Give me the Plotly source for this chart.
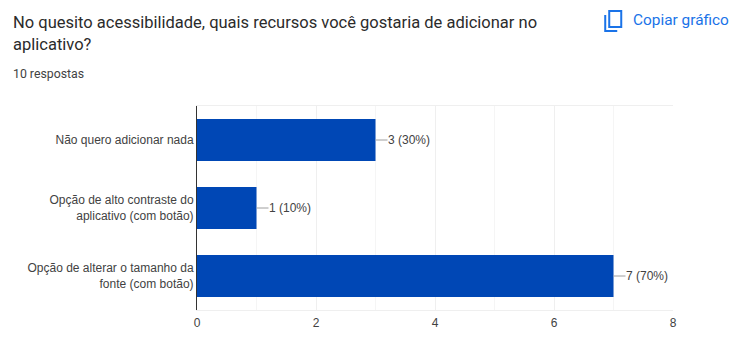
import plotly.graph_objects as go

categories = ["Não quero adicionar nada",
              "Opção de alto contraste do<br>aplicativo (com botão)",
              "Opção de alterar o tamanho da<br>fonte (com botão)"]
values = [3, 1, 7]
percents = ["30%", "10%", "70%"]
xticks = [0, 2, 4, 6, 8]
title_lines = ["No quesito acessibilidade, quais recursos você gostaria de adicionar no", "aplicativo?"]
subtitle = "10 respostas"
copy_label = "Copiar gráfico"

W, H = 748, 358
L, R, T, B = 197.2, 75.3, 106, 48
TXT = "#424242"
ARIAL = "Liberation Sans, Arial, sans-serif"

def px(x):
    return (x - L) / (W - L - R)

def py(y):
    return 1 - (y - T) / (H - T - B)

fig = go.Figure(go.Bar(y=categories, x=values, orientation="h", width=0.62,
                       marker=dict(color="#0047B5", line_width=0),
                       hoverinfo="skip"))

annotations = []
for c, v, p in zip(categories, values, percents):
    annotations.append(dict(x=v, y=c, xref="x", yref="y", text=f"{v} ({p})",
                            showarrow=True, arrowhead=0, arrowwidth=1, arrowcolor="#9e9e9e",
                            ax=12, ay=0, axref="pixel", ayref="pixel", standoff=0,
                            xanchor="left", yanchor="middle", borderpad=0, borderwidth=0,
                            font=dict(family=ARIAL, size=12, color=TXT)))
for i, line in enumerate(title_lines):
    annotations.append(dict(x=px(12), y=py(22 + 23 * i), xref="paper", yref="paper", text=line,
                            showarrow=False, xanchor="left", yanchor="middle", borderpad=0,
                            font=dict(family="Roboto", size=16.5, color="#2b2b2b")))
annotations.append(dict(x=px(12), y=py(74), xref="paper", yref="paper", text=subtitle,
                        showarrow=False, xanchor="left", yanchor="middle", borderpad=0,
                        font=dict(family="Roboto", size=12.3, color="#424242")))
annotations.append(dict(x=px(632), y=py(20), xref="paper", yref="paper", text=copy_label,
                        showarrow=False, xanchor="left", yanchor="middle", borderpad=0,
                        font=dict(family="Roboto", size=15.4, color="#1A73E8")))

shapes = [
    dict(type="rect", xref="paper", yref="paper", x0=px(609), x1=px(621), y0=py(11), y1=py(27),
         line=dict(color="#1A73E8", width=2), fillcolor="rgba(0,0,0,0)"),
    dict(type="path", xref="paper", yref="paper",
         path=f"M{px(605)},{py(15)} L{px(605)},{py(31)} L{px(617)},{py(31)}",
         line=dict(color="#1A73E8", width=2)),
]

fig.update_layout(
    width=W, height=H, paper_bgcolor="white", plot_bgcolor="white", showlegend=False,
    margin=dict(l=L, r=R, t=T, b=B, pad=0),
    xaxis=dict(range=[0, 8], tickvals=xticks, ticks="", showgrid=True, gridcolor="#efefef", gridwidth=1,
               minor=dict(dtick=1, showgrid=True, gridcolor="#f5f5f5", gridwidth=1, ticks=""),
               zeroline=False, showline=True, linecolor="#efefef", linewidth=1, mirror=True,
               ticklabelstandoff=2,
               tickfont=dict(family=ARIAL, size=12, color=TXT)),
    yaxis=dict(autorange="reversed", showgrid=False, ticks="", zeroline=False, showline=True,
               linecolor="#333333", linewidth=1,
               tickfont=dict(family=ARIAL, size=12, color=TXT)),
    annotations=annotations, shapes=shapes,
)
fig.write_html("out.html", config=dict(displayModeBar=False),
               post_script="document.body.style.margin='0';document.documentElement.style.overflow='hidden';")
